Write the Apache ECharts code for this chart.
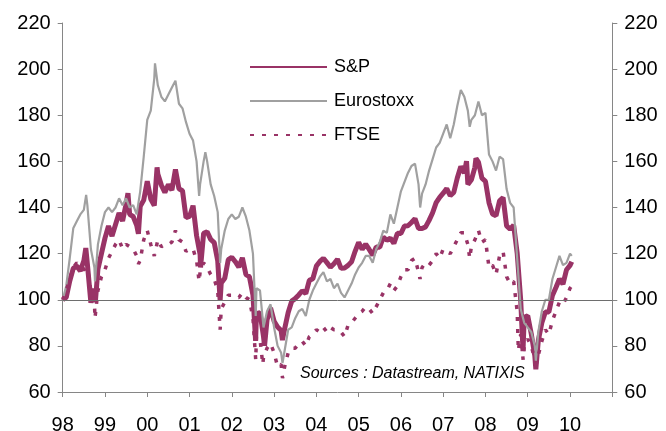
<!DOCTYPE html>
<html>
<head>
<meta charset="utf-8">
<script src="https://cdn.jsdelivr.net/npm/echarts@6/dist/echarts.min.js"></script>
<style>html,body{margin:0;padding:0;background:#fff;}#c{width:666px;height:431px;}</style>
</head>
<body>
<div id="c"></div>
<script>
// Month-end values, Dec 1997 = 100, then Jan..Dec for 1998..2009
const spMonthly = [
  100,
  101.0, 108.1, 113.6, 114.6, 112.5, 116.9, 115.6, 98.7, 104.8, 113.3, 120.0, 126.7,
  132.0, 127.6, 132.6, 137.6, 134.2, 141.5, 137.0, 136.1, 132.3, 140.5, 143.2, 151.4,
  143.7, 140.8, 154.5, 149.7, 146.5, 150.0, 147.5, 156.5, 148.1, 147.3, 135.6, 136.1,
  140.8, 127.8, 119.6, 128.8, 129.5, 126.2, 124.8, 116.9, 107.3, 109.3, 117.4, 118.4,
  116.5, 114.1, 118.2, 110.9, 110.0, 102.1, 94.0, 94.4, 84.0, 91.3, 96.5, 90.7,
  88.2, 86.7, 87.4, 94.5, 99.4, 100.5, 102.1, 103.9, 102.7, 108.4, 109.1, 114.6,
  116.6, 118.0, 116.1, 114.1, 115.6, 117.6, 113.6, 113.8, 114.9, 116.5, 121.0, 124.9,
  121.8, 124.1, 121.8, 119.3, 122.9, 122.8, 127.2, 125.8, 126.7, 124.4, 128.8, 128.7,
  132.0, 132.1, 133.5, 135.2, 130.9, 130.9, 131.6, 134.4, 137.7, 142.1, 144.4, 146.2,
  148.2, 145.1, 146.5, 152.8, 157.8, 154.9, 150.0, 152.0, 157.4, 159.7, 152.7, 151.3,
  142.1, 137.2, 136.4, 142.9, 144.3, 132.0, 130.6, 132.3, 120.2, 99.9, 92.4, 93.1,
  85.2, 75.8, 82.3, 90.0, 94.7, 94.7, 101.8, 105.3, 109.0, 106.8, 113.0, 114.9
];
const spExtra = [
  ['1998-07-17', 122.4], ['1998-10-08', 98.9], ['1999-07-16', 146.2], ['1999-10-15', 128.6],
  ['2000-03-24', 157.4], ['2000-09-01', 156.7], ['2001-04-04', 114.0], ['2001-09-21', 99.6],
  ['2002-07-23', 82.2], ['2002-10-09', 80.1], ['2003-03-11', 82.5], ['2007-07-19', 160.1],
  ['2007-10-09', 161.3], ['2008-11-20', 77.7], ['2009-03-09', 69.8], ['2010-01-15', 116.5]
];

const esMonthly = [
  100,
  106, 118, 131, 134, 137, 139, 141, 122, 114, 124, 132, 138,
  140, 138, 140, 144, 141, 144, 140, 141, 137, 147, 162, 178,
  182, 196, 193, 188, 186, 189, 192, 195, 185, 183, 177, 172,
  169, 160, 150, 160, 160, 150, 145, 138, 122, 130, 135, 137,
  135, 136, 140, 136, 130, 120, 105, 104, 88, 95, 98, 88,
  80, 77, 78, 87, 88, 92, 95, 96, 93, 100, 104, 107,
  110, 112, 108, 109, 105, 107, 103, 101, 104, 107, 111, 114,
  116, 119, 119, 116, 122, 125, 130, 129, 137, 133, 140, 147,
  151, 155, 158, 159, 150, 146, 150, 156, 161, 166, 168, 172,
  176, 170, 176, 184, 191, 188, 182, 178, 180, 186, 180, 181,
  163, 160, 156, 162, 161, 148, 142, 140, 118, 96, 90, 88,
  86, 80, 86, 95, 100, 100, 109, 114, 119, 115, 116, 120
];
const esExtra = [
  ['1998-07-20', 145.5], ['1998-10-05', 108], ['2000-03-06', 202.5], ['2001-03-22', 145],
  ['2001-05-15', 164], ['2001-09-21', 116], ['2002-07-24', 93], ['2003-03-12', 72.5],
  ['2006-06-14', 140], ['2007-08-16', 175], ['2009-03-09', 73.5], ['2010-01-15', 119]
];

const ftMonthly = [
  100,
  104, 109, 114, 116, 114, 113, 114, 104, 99, 104, 110, 113,
  118, 121, 124, 126, 122, 124, 123, 122, 119, 117, 126, 130,
  124, 119, 126, 123, 124, 124, 125, 130, 126, 125, 121, 122,
  122, 117, 112, 116, 114, 111, 109, 104, 96, 99, 102, 102,
  101, 101, 103, 101, 100, 92, 84, 83, 75, 79, 81, 77,
  71, 72, 71, 77, 79, 79, 81, 82, 80, 84, 85, 87,
  86, 88, 86, 88, 87, 87, 86, 84, 89, 90, 92, 94,
  95, 97, 96, 94, 97, 100, 103, 104, 107, 104, 106, 110,
  113, 113, 117, 118, 112, 114, 116, 115, 117, 120, 118, 122,
  121, 120, 123, 126, 129, 129, 124, 123, 126, 130, 125, 126,
  114, 115, 111, 119, 121, 110, 107, 108, 95, 85, 80, 83,
  80, 74, 76, 82, 87, 85, 91, 95, 99, 98, 101, 105
];
const ftExtra = [
  ['1998-10-05', 92], ['1999-10-15', 115.5], ['2001-03-22', 108], ['2001-09-21', 87],
  ['2002-07-24', 74], ['2002-09-24', 72], ['2003-03-12', 66], ['2006-06-13', 109],
  ['2007-08-16', 118], ['2008-10-10', 78], ['2008-11-21', 74], ['2009-03-03', 70],
  ['2010-01-15', 106]
];

const yearTicks = ['98','99','00','01','02','03','04','05','06','07','08','09','10'];
const seriesNames = ['S&P', 'Eurostoxx', 'FTSE'];

// month-end labels: Dec 1997, then every month 1998..2009
const monthEnds = ['1997-12'];
for (let y = 1998; y <= 2009; y++) for (let m = 1; m <= 12; m++) monthEnds.push(y + '-' + String(m).padStart(2, '0'));

function toYear(s) {
  const p = s.split('-').map(Number);
  if (p.length === 2) return p[0] + p[1] / 12;
  return p[0] + (p[1] - 1 + p[2] / 30.5) / 12;
}
function build(monthly, extra) {
  const pts = monthEnds.map((d, i) => [toYear(d), monthly[i]]);
  extra.forEach(e => pts.push([toYear(e[0]), e[1]]));
  pts.sort((a, b) => a[0] - b[0]);
  return pts;
}

const FONT = "'Liberation Sans', Arial, sans-serif";
const MAROON = '#993366';
const GREY = '#a0a0a0';
const axisGrey = '#868686';

const chart = echarts.init(document.getElementById('c'));
chart.setOption({
  animation: false,
  backgroundColor: '#fff',
  textStyle: { fontFamily: FONT },
  grid: { left: 62.7, right: 53.7, top: 23, bottom: 39, containLabel: false, outerBoundsMode: 'none' },
  title: {
    text: 'Sources : Datastream, NATIXIS',
    left: 300, top: 366, padding: 0,
    textStyle: { fontFamily: FONT, fontSize: 16, fontStyle: 'italic', fontWeight: 'normal', color: '#000' }
  },
  legend: {
    orient: 'vertical', left: 249, top: 58, padding: 0,
    itemWidth: 77, itemHeight: 16, itemGap: 16,
    data: seriesNames,
    itemStyle: { color: 'rgba(0,0,0,0)', borderWidth: 0, opacity: 0 },
    textStyle: { fontFamily: FONT, fontSize: 18, color: '#000', padding: [0, 0, 0, 2] }
  },
  xAxis: {
    type: 'value', min: 1998, max: 2011, interval: 1,
    axisLine: { show: true, lineStyle: { color: axisGrey, width: 1 } },
    axisTick: { show: true, length: 5, lineStyle: { color: axisGrey } },
    splitLine: { show: false },
    axisLabel: {
      fontFamily: FONT, fontSize: 20, color: '#000', margin: 23,
      showMinLabel: true, showMaxLabel: true,
      formatter: v => { const i = Math.round(v - 1998); return yearTicks[i] || ''; }
    }
  },
  yAxis: [
    {
      type: 'value', min: 60, max: 220, interval: 20, position: 'left',
      axisLine: { show: true, lineStyle: { color: axisGrey, width: 1 } },
      axisTick: { show: true, length: 5, lineStyle: { color: axisGrey } },
      splitLine: { show: false },
      axisLabel: { fontFamily: FONT, fontSize: 20, color: '#000', margin: 12 }
    },
    {
      type: 'value', min: 60, max: 220, interval: 20, position: 'right',
      axisLine: { show: true, lineStyle: { color: axisGrey, width: 1 } },
      axisTick: { show: true, length: 5, lineStyle: { color: axisGrey } },
      splitLine: { show: false },
      axisLabel: { fontFamily: FONT, fontSize: 20, color: '#000', margin: 12 }
    }
  ],
  series: [
    {
      name: seriesNames[0], type: 'line', data: build(spMonthly, spExtra),
      showSymbol: false, symbol: 'none', color: MAROON,
      lineStyle: { color: MAROON, width: 5 }
    },
    {
      name: seriesNames[1], type: 'line', data: build(esMonthly, esExtra),
      showSymbol: false, symbol: 'none', color: GREY,
      lineStyle: { color: GREY, width: 2.2 }
    },
    {
      name: seriesNames[2], type: 'line', data: build(ftMonthly, ftExtra),
      showSymbol: false, symbol: 'none', color: MAROON,
      lineStyle: { color: MAROON, width: 3.5, type: [4, 8] },
      markLine: {
        silent: true, symbol: 'none', label: { show: false },
        lineStyle: { color: '#6e6e6e', width: 1, type: 'solid' },
        data: [{ yAxis: 100 }]
      }
    }
  ]
});
</script>
</body>
</html>
